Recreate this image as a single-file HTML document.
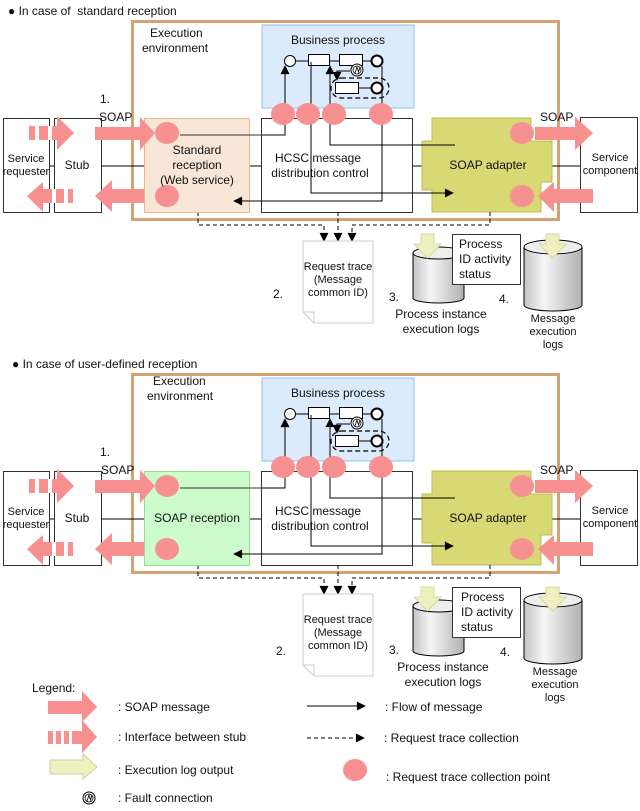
<!DOCTYPE html>
<html><head><meta charset="utf-8"><style>
html,body{margin:0;padding:0;background:#fff;}
svg{display:block;font-family:"Liberation Sans",Arial,sans-serif;}
</style></head><body>
<svg width="640" height="811" viewBox="0 0 640 811" xmlns="http://www.w3.org/2000/svg">
<defs>
<linearGradient id="cg" x1="0" x2="1" y1="0" y2="0">
<stop offset="0" stop-color="#c4c4c4"/><stop offset="0.35" stop-color="#f6f6f6"/><stop offset="1" stop-color="#b0b0b0"/>
</linearGradient>
<marker id="ah" viewBox="0 0 10 10" refX="9" refY="5" markerWidth="10" markerHeight="9" orient="auto" markerUnits="userSpaceOnUse"><path d="M0,0L10,5L0,10z" fill="#000"/></marker>
<g id="fault">
<circle cx="0" cy="0" r="6" fill="#fff" stroke="#000" stroke-width="1"/>
<circle cx="0" cy="0" r="4" fill="none" stroke="#000" stroke-width="0.8"/>
<path d="M-2,3 L0,-3 L1.5,2 L3,-3" fill="none" stroke="#000" stroke-width="0.8"/>
</g>
<g id="S">
<rect x="132.5" y="21.5" width="426" height="198" fill="#fff" stroke="#d3a373" stroke-width="3"/>
<rect x="262" y="25" width="152" height="83" fill="#dbeafd" stroke="#90c0f0" stroke-width="1"/>
<rect x="3.5" y="118.5" width="46" height="94" fill="#fff" stroke="#333"/>
<rect x="54.5" y="118.5" width="47" height="94" fill="#fff" stroke="#333"/>
<line x1="50" y1="166" x2="54" y2="166" stroke="#000"/>
<line x1="101" y1="166" x2="145" y2="166" stroke="#000"/>
<line x1="250" y1="166" x2="262" y2="166" stroke="#000"/>
<line x1="412" y1="166" x2="424" y2="166" stroke="#000"/>
<line x1="552" y1="166" x2="581" y2="166" stroke="#000"/>
<rect x="261.5" y="118.5" width="151" height="94" fill="#fff" stroke="#333"/>
<rect x="580.5" y="117.5" width="57" height="95" fill="#fff" stroke="#333"/>
<polygon points="432,118 531,118 531,141 552,141 552,182 541,182 541,212 432,212 432,190 422,190 422,141 432,141" fill="#d8d875" stroke="#bcbc50"/>
<line x1="295" y1="61" x2="372" y2="61" stroke="#000"/>
<circle cx="290" cy="61" r="5.5" fill="#fff" stroke="#000" stroke-width="1"/>
<rect x="308.5" y="54.5" width="21" height="11" fill="#fff" stroke="#000"/>
<rect x="339.5" y="54.5" width="23" height="11" fill="#fff" stroke="#000"/>
<circle cx="377" cy="61" r="5.5" fill="#fff" stroke="#000" stroke-width="2"/>
<rect x="331" y="78" width="58" height="20" rx="10" fill="none" stroke="#000" stroke-dasharray="5,3" stroke-width="1.2"/>
<rect x="335.5" y="82.5" width="23" height="11" fill="#fff" stroke="#000"/>
<line x1="358" y1="88" x2="372" y2="88" stroke="#000"/>
<circle cx="377" cy="88" r="5.5" fill="#fff" stroke="#000" stroke-width="2"/>
<path d="M350,71 L337,71 L337,80" fill="none" stroke="#000" marker-end="url(#ah)"/>
<use href="#fault" x="357" y="70"/>
<path d="M235,135 L285,135 L285,66" fill="none" stroke="#000" marker-end="url(#ah)"/>
<path d="M311,62 L311,193 L453,193" fill="none" stroke="#000" marker-end="url(#ah)"/>
<path d="M455,145 L330,145 L330,66" fill="none" stroke="#000" marker-end="url(#ah)"/>
<path d="M382,66 L382,201 L234,201" fill="none" stroke="#000" marker-end="url(#ah)"/>
<path d="M198,212 L198,225 L324,225 L324,241" fill="none" stroke="#000" stroke-dasharray="4,3" marker-end="url(#ah)"/>
<path d="M338,212 L338,241" fill="none" stroke="#000" stroke-dasharray="4,3" marker-end="url(#ah)"/>
<path d="M490,212 L490,225 L352,225 L352,241" fill="none" stroke="#000" stroke-dasharray="4,3" marker-end="url(#ah)"/>
<g fill="#f89090">
<polygon points="95,127 140,127 140,117 155,133 140,150 140,140 95,140"/>
<polygon points="155,189 112,189 112,180 95,196 112,212 112,203 155,203"/>
<polygon points="535,127 575,127 575,117 593,133 575,150 575,140 535,140"/>
<polygon points="593,189 554,189 554,182 538,196 554,212 554,203 593,203"/>
<polygon points="29,126 57,126 57,116 74,133 57,150 57,140 29,140"/>
<polygon points="73,189 43,189 43,182 27,196 43,212 43,203 73,203"/>
</g>
<g fill="#fff">
<rect x="35" y="126" width="4" height="14"/><rect x="48" y="126" width="4" height="14"/>
<rect x="52" y="189" width="4" height="14"/><rect x="64" y="189" width="4" height="14"/>
</g>
<g fill="#f79090">
<ellipse cx="167" cy="133" rx="12" ry="11"/><ellipse cx="167" cy="196" rx="12" ry="11"/>
<ellipse cx="283" cy="114" rx="12" ry="11"/><ellipse cx="308" cy="114" rx="12" ry="11"/>
<ellipse cx="334" cy="114" rx="12" ry="11"/><ellipse cx="381" cy="114" rx="12" ry="11"/>
<ellipse cx="522" cy="133" rx="12" ry="11"/><ellipse cx="522" cy="196" rx="12" ry="11"/>
</g>
<polygon points="303,241 373,241 373,323 314,323 303,312" fill="#fff" stroke="#ccc"/>
<path d="M303,312 L314,312 L314,323" fill="none" stroke="#ccc"/>
<path d="M413,253 L413,298 A25.5,5 0 0 0 464,298 L464,253" fill="url(#cg)" stroke="#000"/>
<ellipse cx="438.5" cy="253" rx="25.5" ry="6" fill="#eee" stroke="#000"/>
<path d="M524,247 L524,305 A29,6 0 0 0 582,305 L582,247" fill="url(#cg)" stroke="#000"/>
<ellipse cx="553" cy="247" rx="29" ry="7" fill="#eee" stroke="#000"/>
<polygon points="421,234 434,234 434,244 441,244 427.5,258 414,244 421,244" fill="#eef0c0" stroke="#d8d8a0"/>
<polygon points="546,234 559,234 559,244 566,244 552.5,258 539,244 546,244" fill="#eef0c0" stroke="#d8d8a0"/>
<rect x="452.5" y="234.5" width="68" height="50" fill="#fff" stroke="#333"/>
</g>
</defs>

<use href="#S"/>
<use href="#S" y="353"/>
<rect x="144.5" y="118.5" width="105" height="94" fill="#f8e6d6" stroke="#e8b890"/>
<rect x="144.5" y="471.5" width="105" height="94" fill="#ccfccc" stroke="#90e090"/>
<g fill="#f79090">
<ellipse cx="167" cy="133" rx="12" ry="11"/><ellipse cx="167" cy="196" rx="12" ry="11"/>
<ellipse cx="167" cy="486" rx="12" ry="11"/><ellipse cx="167" cy="549" rx="12" ry="11"/>
</g>
<path d="M180,135 L262,135" stroke="#333"/>
<path d="M180,488 L262,488" stroke="#333"/>
<path d="M300,201 L234,201" stroke="#000" marker-end="url(#ah)"/>
<path d="M300,554 L234,554" stroke="#000" marker-end="url(#ah)"/>
<polygon points="140,117 155,133 140,150" fill="#f89090"/>
<polygon points="140,470 155,486 140,503" fill="#f89090"/>

<g font-size="12" fill="#111">
<text x="8" y="15">● In case of&#160; standard reception</text>
<text x="150" y="37">Execution</text><text x="142" y="52">environment</text>
<text x="338" y="44" text-anchor="middle">Business process</text>
<text x="100" y="103">1.</text><text x="99" y="121">SOAP</text>
<text x="540" y="121">SOAP</text>
<text x="26" y="162" text-anchor="middle" font-size="11">Service</text><text x="26" y="175" text-anchor="middle" font-size="11">requester</text>
<text x="77" y="169" text-anchor="middle">Stub</text>
<text x="197" y="154" text-anchor="middle">Standard</text><text x="197" y="169" text-anchor="middle">reception</text><text x="197" y="184" text-anchor="middle">(Web service)</text>
<text x="318" y="162" text-anchor="middle">HCSC message</text><text x="320" y="177" text-anchor="middle">distribution control</text>
<text x="488" y="169" text-anchor="middle">SOAP adapter</text>
<text x="610" y="161" text-anchor="middle" font-size="11">Service</text><text x="610" y="174" text-anchor="middle" font-size="11">component</text>
<g font-size="11"><text x="338" y="270" text-anchor="middle">Request trace</text><text x="338" y="283" text-anchor="middle">(Message</text><text x="338" y="296" text-anchor="middle">common ID)</text></g>
<text x="273" y="298">2.</text>
<text x="459" y="248">Process</text><text x="459" y="263">ID activity</text><text x="459" y="278">status</text>
<text x="389" y="301">3.</text><text x="441" y="318" text-anchor="middle">Process instance</text><text x="441" y="333" text-anchor="middle">execution logs</text>
<text x="499" y="303">4.</text>
<g font-size="11"><text x="553" y="322" text-anchor="middle">Message</text><text x="553" y="335" text-anchor="middle">execution</text><text x="553" y="348" text-anchor="middle">logs</text></g>

<text x="12" y="368">● In case of user-defined reception</text>
<text x="153" y="385">Execution</text><text x="147" y="400">environment</text>
<text x="338" y="397" text-anchor="middle">Business process</text>
<text x="100" y="456">1.</text><text x="101" y="474">SOAP</text>
<text x="540" y="474">SOAP</text>
<text x="26" y="515" text-anchor="middle" font-size="11">Service</text><text x="26" y="528" text-anchor="middle" font-size="11">requester</text>
<text x="77" y="522" text-anchor="middle">Stub</text>
<text x="197" y="522" text-anchor="middle">SOAP reception</text>
<text x="318" y="515" text-anchor="middle">HCSC message</text><text x="320" y="530" text-anchor="middle">distribution control</text>
<text x="488" y="522" text-anchor="middle">SOAP adapter</text>
<text x="610" y="514" text-anchor="middle" font-size="11">Service</text><text x="610" y="527" text-anchor="middle" font-size="11">component</text>
<g font-size="11"><text x="338" y="623" text-anchor="middle">Request trace</text><text x="338" y="636" text-anchor="middle">(Message</text><text x="338" y="649" text-anchor="middle">common ID)</text></g>
<text x="276" y="655">2.</text>
<text x="461" y="601">Process</text><text x="461" y="616">ID activity</text><text x="461" y="631">status</text>
<text x="389" y="654">3.</text><text x="443" y="671" text-anchor="middle">Process instance</text><text x="443" y="686" text-anchor="middle">execution logs</text>
<text x="500" y="656">4.</text>
<g font-size="11"><text x="555" y="675" text-anchor="middle">Message</text><text x="555" y="688" text-anchor="middle">execution</text><text x="555" y="701" text-anchor="middle">logs</text></g>

<text x="32" y="692">Legend:</text>
<text x="118" y="711">: SOAP message</text>
<text x="118" y="741">: Interface between stub</text>
<text x="118" y="774">: Execution log output</text>
<text x="118" y="802">: Fault connection</text>
<text x="385" y="711">: Flow of message</text>
<text x="384" y="742">: Request trace collection</text>
<text x="386" y="781">: Request trace collection point</text>
</g>
<polygon points="48,701 82,701 82,691 97,707 82,722 82,714 48,714" fill="#f89090"/>
<polygon points="48,731 82,731 82,720 97,737 82,753 82,744 48,744" fill="#f89090"/>
<rect x="53" y="731" width="3" height="13" fill="#fff"/><rect x="61" y="731" width="3" height="13" fill="#fff"/><rect x="69" y="731" width="3" height="13" fill="#fff"/>
<polygon points="50,760 83,760 83,754 97,767 83,779 83,774 50,774" fill="#eef0c0" stroke="#d0d0a0"/>
<use href="#fault" x="89" y="798"/>
<line x1="307" y1="706" x2="365" y2="706" stroke="#000" marker-end="url(#ah)"/>
<line x1="307" y1="738" x2="364" y2="738" stroke="#000" stroke-dasharray="4,3" marker-end="url(#ah)"/>
<ellipse cx="355" cy="770" rx="12" ry="11" fill="#f79090"/>
</svg>
</body></html>
